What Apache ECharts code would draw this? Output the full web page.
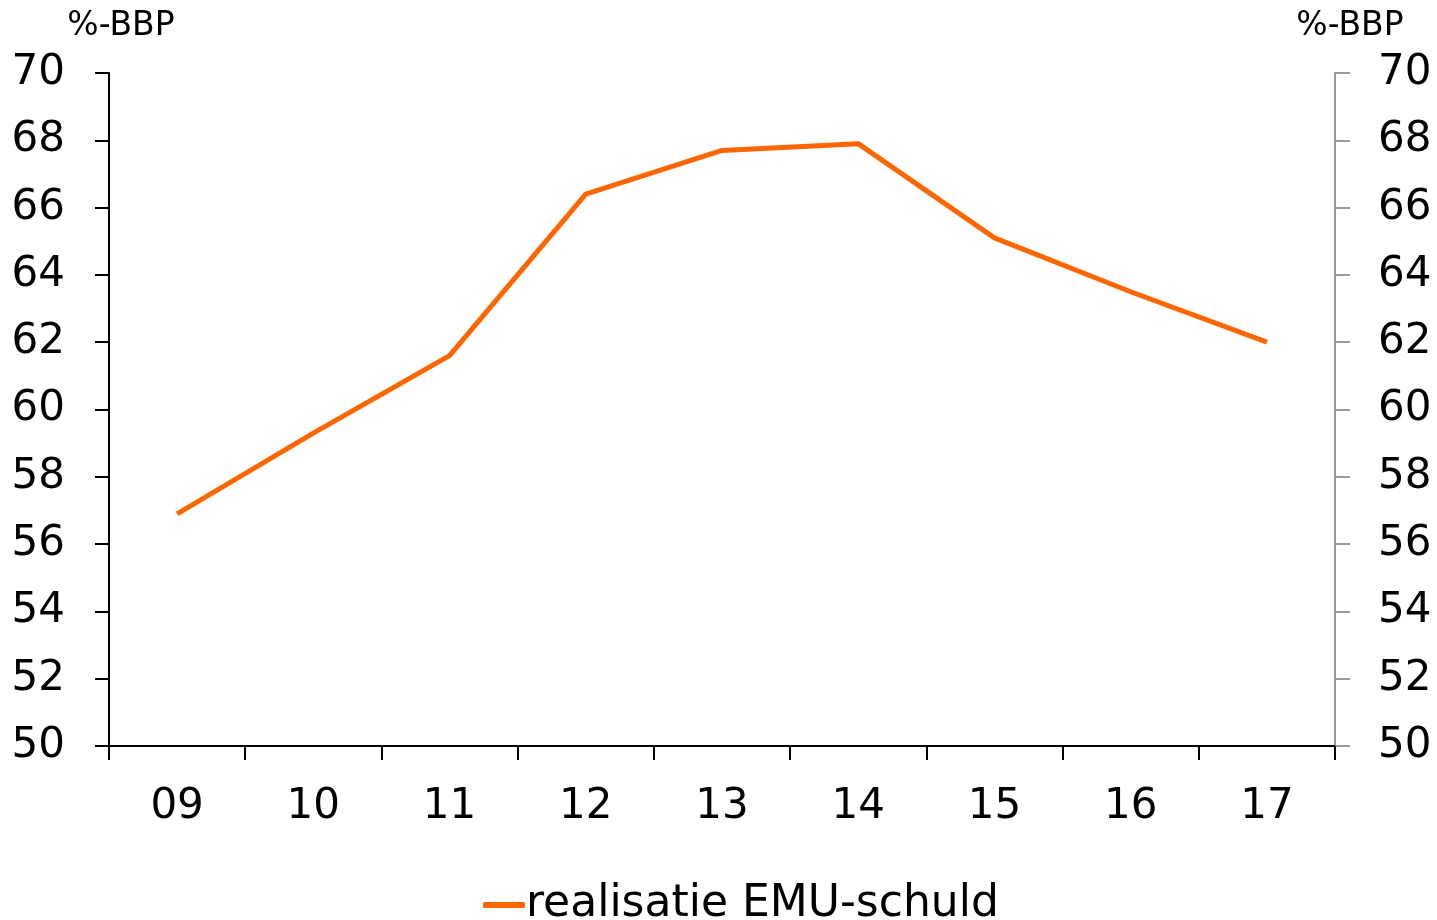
<!DOCTYPE html>
<html><head><meta charset="utf-8">
<script src="https://cdn.jsdelivr.net/npm/echarts@6/dist/echarts.min.js"></script>
<style>html,body{margin:0;padding:0;background:#fff}#c{width:1437px;height:920px}</style>
</head><body><div id="c"></div>
<script>
const categories = ['09','10','11','12','13','14','15','16','17'];
const emuDebt = [56.9, 59.3, 61.6, 66.4, 67.7, 67.9, 65.1, 63.5, 62.0];
const seriesName = 'realisatie EMU-schuld';
const unitLabel = '%-BBP';
const yMin = 50, yMax = 70, yStep = 2;

const font = 'DejaVu Sans, Verdana, sans-serif';
const chart = echarts.init(document.getElementById('c'));
chart.setOption({
  animation: false,
  textStyle: {fontFamily: font},
  grid: {left: 109, right: 102, top: 73, bottom: 174, containLabel: false},
  legend: {
    data: [seriesName], bottom: -12, left: 478,
    icon: 'roundRect', itemWidth: 42, itemHeight: 6, itemGap: 4,
    textStyle: {fontSize: 44, color: '#000', fontFamily: font, padding: [0,0,0,-4]}
  },
  xAxis: {
    type: 'category', data: categories, boundaryGap: true,
    axisLine: {lineStyle: {color: '#000', width: 2}},
    axisTick: {show: true, length: 14, lineStyle: {color: '#000', width: 2}},
    axisLabel: {fontSize: 42, color: '#000', margin: 40, fontFamily: font},
    splitLine: {show: false}
  },
  yAxis: [{
    type: 'value', min: yMin, max: yMax, interval: yStep, position: 'left',
    name: unitLabel, nameLocation: 'end', nameGap: 30,
    nameTextStyle: {fontSize: 33, color: '#000', align: 'center', padding: [0,0,0,24], fontFamily: font},
    axisLine: {show: true, lineStyle: {color: '#000', width: 2}},
    axisTick: {show: true, length: 14, lineStyle: {color: '#000', width: 2}},
    axisLabel: {fontSize: 42, color: '#000', margin: 44, fontFamily: font},
    splitLine: {show: false}
  }, {
    type: 'value', min: yMin, max: yMax, interval: yStep, position: 'right',
    name: unitLabel, nameLocation: 'end', nameGap: 30,
    nameTextStyle: {fontSize: 33, color: '#000', align: 'center', padding: [0,0,0,30], fontFamily: font},
    axisLine: {show: true, lineStyle: {color: '#999', width: 2}},
    axisTick: {show: true, length: 15, lineStyle: {color: '#999', width: 2}},
    axisLabel: {fontSize: 42, color: '#000', margin: 43, fontFamily: font},
    splitLine: {show: false}
  }],
  series: [{
    name: seriesName, type: 'line', data: emuDebt, yAxisIndex: 0,
    showSymbol: false, symbol: 'none',
    lineStyle: {color: '#FF6600', width: 5},
    itemStyle: {color: '#FF6600'}
  }]
});
</script></body></html>
